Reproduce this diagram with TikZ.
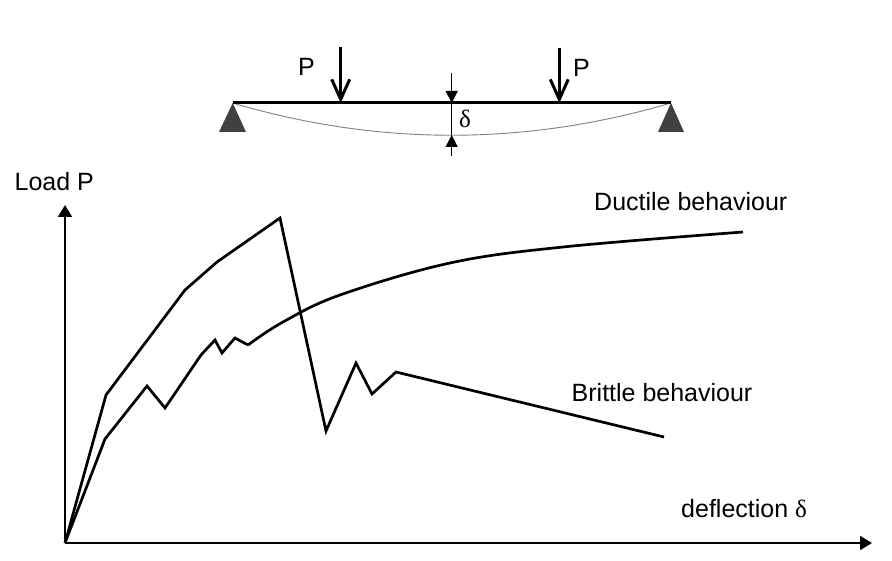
\documentclass[tikz,border=0pt]{standalone}
\usepackage{fontspec}
\setmainfont{Liberation Sans}
\newfontfamily\grk{Liberation Serif}
\usetikzlibrary{arrows.meta}
\begin{document}
\begin{tikzpicture}[x=1pt,y=-1pt,
  lbl/.style={anchor=base west,inner sep=0pt,font=\fontsize{25}{30}\selectfont},
  curve/.style={line width=2.7pt,line join=miter},
  axis/.style={line width=1.8pt,-{Triangle[length=12pt,width=14pt]}},
  loadarrow/.style={line width=3pt,-{Straight Barb[length=20pt,width=18pt,line width=3pt]}},
  dimarrow/.style={line width=1.3pt,-{Triangle[length=12pt,width=12pt]}},
  support/.style={fill=black!75}]
\useasboundingbox (0,0) rectangle (892,561);
% beam
\coordinate (bl) at (232.7,103);
\coordinate (br) at (671,103);
\coordinate (mid) at (451.7,135);
\draw[black!50,line width=0.9pt] (bl) .. controls (378,146) and (525,146) .. (br);
\draw[line width=3pt] (bl) -- (br);
\fill[support] (219,132) -- (246,132) -- (bl) -- cycle;
\fill[support] (658,132) -- (684,132) -- (br) -- cycle;
% loads
\coordinate (p1t) at (340.7,47);
\coordinate (p1b) at (340.7,103);
\coordinate (p2t) at (559.3,48);
\coordinate (p2b) at (559.3,103);
\draw[loadarrow] (p1t) -- (p1b);
\draw[loadarrow] (p2t) -- (p2b);
\node[lbl] (P1) at (298,75.7) {P};
\node[lbl] (P2) at (573,76.7) {P};
% deflection dimension
\coordinate (dt) at (451.7,73);
\coordinate (db) at (451.7,103);
\coordinate (ub) at (451.7,156);
\draw[dimarrow] (dt) -- (db);
\draw[line width=1.3pt] (db) -- (mid);
\draw[dimarrow] (ub) -- (mid);
\node[lbl,font=\grk\fontsize{25}{30}\selectfont] (dl) at (459,128) {δ};
% axes
\coordinate (O) at (65,543);
\coordinate (Y) at (65,205);
\coordinate (X) at (872,543);
\draw[axis] (O) -- (Y);
\draw[axis] (O) -- (X);
\node[lbl] (ly) at (14.5,191) {Load P};
\node[lbl] (lx) at (681,517) {deflection {\grk δ}};
% brittle curve
\draw[curve] (O) -- (106,395) -- (185,290) -- (217,262) -- (280,218) -- (326,431)
  -- (356,363) -- (372,394) -- (396,372) -- (664,437);
% ductile curve
\draw[curve] (O) -- (105,439) -- (147,386) -- (165,408) -- (201,355) -- (215,340)
  -- (222,353) -- (235,338) -- (248,345);
\draw[curve] plot[smooth,tension=0.6] coordinates {(248,345) (283,322) (340,295) (450,263) (563,247) (743,232)};
\node[lbl] (ld) at (594,210.7) {Ductile behaviour};
\node[lbl] (lb) at (571.5,401.7) {Brittle behaviour};
\end{tikzpicture}
\end{document}
